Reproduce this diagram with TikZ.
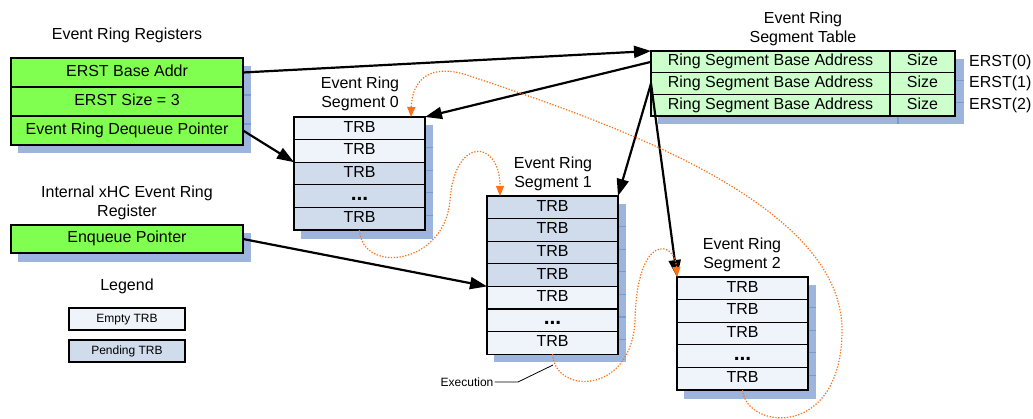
\documentclass[tikz,border=0pt]{standalone}
\usepackage{fontspec}
\setmainfont{Liberation Sans}
\usetikzlibrary{arrows.meta}
\definecolor{reggreen}{RGB}{128,255,80}
\definecolor{tblgreen}{RGB}{204,255,204}
\definecolor{emptyfill}{RGB}{239,243,250}
\definecolor{pendfill}{RGB}{208,220,236}
\definecolor{shadowc}{RGB}{157,180,220}
\definecolor{shadowln}{RGB}{120,155,210}
\definecolor{orangec}{RGB}{255,112,20}
\newcommand{\trbdots}{{\fontsize{21}{21}\selectfont\textbf{...}}}
\begin{document}
\begin{tikzpicture}[x=1pt,y=-1pt,
  cell/.style={draw=black, line width=1.3pt, rectangle, inner sep=0pt, outer sep=0pt, anchor=north west,
     font=\fontsize{16}{19}\selectfont, text height=11.5pt, text depth=3.5pt},
  trbcell/.style={cell, minimum width=131pt, minimum height=22.6pt},
  emptyc/.style={trbcell, fill=emptyfill},
  pendc/.style={trbcell, fill=pendfill},
  regc/.style={cell, fill=reggreen, minimum width=232pt, minimum height=29pt},
  tblc/.style={cell, fill=tblgreen, minimum height=21.7pt},
  shadowbox/.style={fill=shadowc, draw=none},
  shline/.style={draw=shadowln, line width=1.2pt},
  title/.style={align=center, font=\fontsize{16}{19}\selectfont, inner sep=0pt},
  small/.style={font=\fontsize{12}{14}\selectfont},
  blk/.style={draw=black, line width=2.2pt, -{Triangle[length=17pt,width=12pt]}},
  orng/.style={draw=orangec, line width=1.2pt, dash pattern=on 1.3pt off 1.6pt, -{Triangle[length=10pt,width=8pt]}}
]
\useasboundingbox (0,0) rectangle (1033,419);

% ---------- shadows ----------
\fill[shadowbox] (18,66) rectangle (251,153);
\draw[shline] (243,95) -- (251,95) (243,124) -- (251,124);
\fill[shadowbox] (18,233) rectangle (251,262);
\fill[shadowbox] (658,59) rectangle (964,124);
\draw[shline] (955,80.7) -- (964,80.7) (955,102.4) -- (964,102.4) (898,116) -- (898,124);
\fill[shadowbox] (301,125) rectangle (433,239);
\foreach \k in {1,...,4} \draw[shline] (425,117+22.6*\k+8) -- (433,117+22.6*\k+8);
\fill[shadowbox] (494,204) rectangle (626,362);
\foreach \k in {1,...,6} \draw[shline] (618,196+22.6*\k+8) -- (626,196+22.6*\k+8);
\fill[shadowbox] (684,285) rectangle (816,399);
\foreach \k in {1,...,4} \draw[shline] (808,277+22.6*\k+8) -- (816,277+22.6*\k+8);

% ---------- Event Ring Registers ----------
\node[title] (regtitle) at (127,35) {Event Ring Registers};
\node[regc] (r1) at (11,58) {ERST Base Addr};
\node[regc] (r2) at (11,87) {ERST Size = 3};
\node[regc] (r3) at (11,116) {Event Ring Dequeue Pointer};

% ---------- Internal register ----------
\node[title] (inttitle) at (127,203) {Internal xHC Event Ring\\Register};
\node[regc, minimum height=28pt] (enq) at (11,225) {Enqueue Pointer};

% ---------- Legend ----------
\node[title] (legtitle) at (127,286) {Legend};
\node[cell, small, fill=emptyfill, minimum width=116pt, minimum height=22pt, text height=9pt, text depth=2.5pt] (lgE) at (69,308) {Empty TRB};
\node[cell, small, fill=pendfill, minimum width=116pt, minimum height=22pt, text height=9pt, text depth=2.5pt] (lgP) at (69,340) {Pending TRB};

% ---------- Segment table ----------
\node[title] (tbltitle) at (803,29) {Event Ring\\Segment Table};
\foreach \k/\yy in {1/51,2/72.7,3/94.4}{
  \node[tblc, minimum width=239pt] (t\k) at (651,\yy) {Ring Segment Base Address};
  \node[tblc, minimum width=65pt] (sz\k) at (890,\yy) {Size};
}
\node[title, anchor=west] (e0) at (969,62) {ERST(0)};
\node[title, anchor=west] (e1) at (969,83.5) {ERST(1)};
\node[title, anchor=west] (e2) at (969,105.2) {ERST(2)};

% ---------- Segment 0 ----------
\node[title] (s0title) at (360,94) {Event Ring\\Segment 0};
\node[emptyc] (s0r1) at (294,117) {TRB};
\node[emptyc] (s0r2) at (294,139.6) {TRB};
\node[pendc] (s0r3) at (294,162.2) {TRB};
\node[pendc] (s0r4) at (294,184.8) {\trbdots};
\node[pendc] (s0r5) at (294,207.4) {TRB};

% ---------- Segment 1 ----------
\node[title] (s1title) at (553,174) {Event Ring\\Segment 1};
\node[pendc] (s1r1) at (487,196) {TRB};
\node[pendc] (s1r2) at (487,218.6) {TRB};
\node[pendc] (s1r3) at (487,241.2) {TRB};
\node[pendc] (s1r4) at (487,263.8) {TRB};
\node[emptyc] (s1r5) at (487,286.4) {TRB};
\node[emptyc] (s1r6) at (487,309) {\trbdots};
\node[emptyc] (s1r7) at (487,331.6) {TRB};

% ---------- Segment 2 ----------
\node[title] (s2title) at (742,255) {Event Ring\\Segment 2};
\node[emptyc] (s2r1) at (677,277) {TRB};
\node[emptyc] (s2r2) at (677,299.6) {TRB};
\node[emptyc] (s2r3) at (677,322.2) {TRB};
\node[emptyc] (s2r4) at (677,344.8) {\trbdots};
\node[emptyc] (s2r5) at (677,367.4) {TRB};

% ---------- black pointers ----------
\draw[blk] (r1.east) -- (t1.north west);
\draw[blk] (t1.west) -- (s0r1.north east);
\draw[blk] (t2.west) -- (s1r1.north east);
\draw[blk] (t2.west) -- (s2r1.north west);
\draw[blk] (r3.east) -- (s0r3.north west);
\draw[blk] (enq.east) -- (s1r5.north west);

% ---------- orange execution path ----------
\coordinate (a1) at (500,196);
\coordinate (seg0in) at (411,117);
\draw[orng] (s0r5.south) .. controls (362,275) and (445,265) .. (450,200)
                         .. controls (455,135) and (500,140) .. (a1);
\draw[orng] (s1r7.south) .. controls (555,395) and (632,395) .. (635,320)
                         .. controls (637,232) and (675,240) .. (s2r1.north west);
\draw[orng] (s2r5.south) .. controls (746,430) and (842,440) .. (842,330)
                         .. controls (842,200) and (600,120) .. (470,76)
                         .. controls (430,62) and (412,80) .. (seg0in);

% ---------- Execution label ----------
\node[small, inner sep=1pt] (exe) at (467,382) {Execution};
\coordinate (exbend) at (518,382);
\coordinate (extip) at (553,365);
\draw[line width=0.8pt] (exe.east) -- (exbend) -- (extip);
\end{tikzpicture}
\end{document}
